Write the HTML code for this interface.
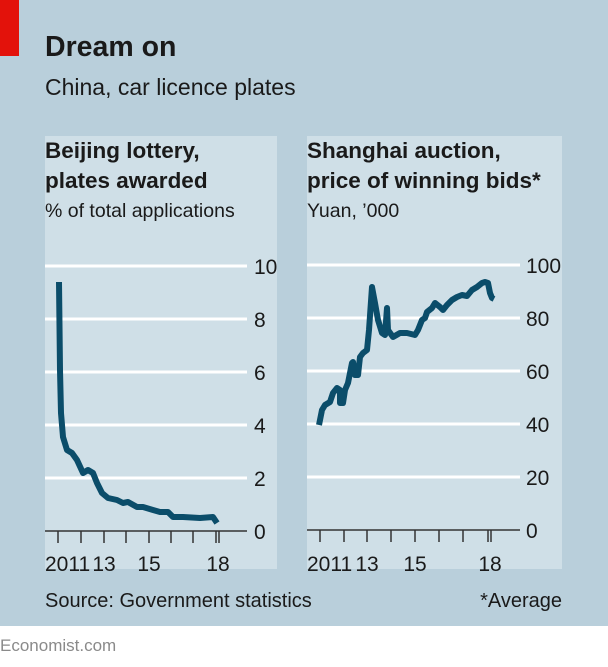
<!DOCTYPE html>
<html><head><style>
body{margin:0;width:608px;height:662px;background:#fff;overflow:hidden;font-family:"Liberation Sans",sans-serif;}
</style></head><body>
<svg width="608" height="662" xmlns="http://www.w3.org/2000/svg" font-family="Liberation Sans, sans-serif">
<rect x="0" y="0" width="608" height="626" fill="#b9cfdb"/>
<rect x="0" y="0" width="19" height="56" fill="#e3120b"/>
<text x="45" y="56" font-size="28.5" font-weight="bold" fill="#1a1a1a">Dream on</text>
<text x="45" y="95" font-size="23" fill="#1a1a1a">China, car licence plates</text>
<rect x="45" y="136" width="232" height="433" fill="#cfdfe7"/>
<rect x="307" y="136" width="255" height="433" fill="#cfdfe7"/>
<g font-size="22.5" font-weight="bold" fill="#1a1a1a">
<text x="45" y="158">Beijing lottery,</text>
<text x="45" y="188">plates awarded</text>
<text x="307" y="158">Shanghai auction,</text>
<text x="307" y="188">price of winning bids*</text>
</g>
<g font-size="19.5" fill="#1a1a1a">
<text x="45" y="217">% of total applications</text>
<text x="307" y="217">Yuan, ’000</text>
</g>
<g stroke="#fff" stroke-width="3">
<line x1="45" x2="247" y1="266" y2="266"/><line x1="45" x2="247" y1="319" y2="319"/>
<line x1="45" x2="247" y1="372" y2="372"/><line x1="45" x2="247" y1="425" y2="425"/>
<line x1="45" x2="247" y1="478" y2="478"/>
<line x1="307" x2="520" y1="265" y2="265"/><line x1="307" x2="520" y1="318" y2="318"/>
<line x1="307" x2="520" y1="371" y2="371"/><line x1="307" x2="520" y1="424" y2="424"/>
<line x1="307" x2="520" y1="477" y2="477"/>
</g>
<g stroke="#333" stroke-width="1.5">
<line x1="45" x2="247" y1="531" y2="531"/>
<line x1="307" x2="520" y1="530" y2="530"/>
<path d="M58 531v12M81 531v12M104 531v12M126 531v12M149 531v12M171 531v12M193 531v12M216 531v12M219 531v12"/>
<path d="M320 530v12M344 530v12M367 530v12M391 530v12M415 530v12M439 530v12M463 530v12M488 530v12M491 530v12"/>
</g>
<g font-size="21" fill="#1a1a1a">
<text x="254" y="274">10</text><text x="254" y="327">8</text><text x="254" y="380">6</text>
<text x="254" y="433">4</text><text x="254" y="486">2</text><text x="254" y="539">0</text>
<text x="526" y="273">100</text><text x="526" y="326">80</text><text x="526" y="379">60</text>
<text x="526" y="432">40</text><text x="526" y="485">20</text><text x="526" y="538">0</text>
<text x="45" y="571">2011</text><text x="104" y="571" text-anchor="middle">13</text>
<text x="149" y="571" text-anchor="middle">15</text><text x="218" y="571" text-anchor="middle">18</text>
<text x="307" y="571">2011</text><text x="367" y="571" text-anchor="middle">13</text>
<text x="415" y="571" text-anchor="middle">15</text><text x="490" y="571" text-anchor="middle">18</text>
</g>
<g font-size="20" fill="#1a1a1a">
<text x="45" y="607">Source: Government statistics</text>
<text x="562" y="607" text-anchor="end">*Average</text>
</g>
<text x="0" y="651" font-size="17" fill="#8a8a8a">Economist.com</text>
<g fill="none" stroke="#0b4d6a" stroke-width="6" stroke-linejoin="round">
<polyline points="59,282 60,370 61,413 63,437 67,450 72,453 77,460 83,473 88,470 93,473 97,483 102,493 108,498 117,500 123,503 128,502 137,507 143,507 153,510 160,512 168,512 173,517 183,517 200,518 213,517 217,523"/>
<polyline points="319,425 322,410 325,405 330,402 333,393 337,388 340,390 340,403 343,403 345,390 348,383 352,363 353,362 355,375 358,375 360,357 363,353 367,350 369,330 372,287 375,303 378,320 382,333 385,335 387,308 388,330 393,337 400,333 407,333 415,335 418,330 422,320 425,318 427,312 432,308 435,303 440,307 443,310 447,305 452,300 457,297 462,295 467,296 472,290 477,287 482,283 485,282 488,283 490,293 492,298 494,299"/>
</g>
</svg>
</body></html>
